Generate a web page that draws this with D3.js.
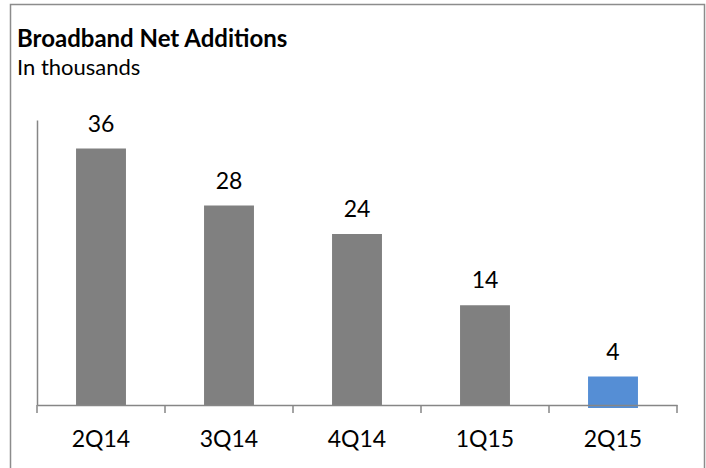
<!DOCTYPE html>
<html>
<head>
<meta charset="utf-8">
<script src="https://cdn.jsdelivr.net/npm/d3@7"></script>
<style>
  body { margin: 0; background: #fff; }
  text { font-family: Lato, "Open Sans", sans-serif; fill: #000; }
</style>
</head>
<body>
<svg id="chart" width="706" height="468"></svg>
<script>
const quarters = ['2Q14', '3Q14', '4Q14', '1Q15', '2Q15'];
const netAdds = [36, 28, 24, 14, 4];
const yTicks = [0, 40];

const svg = d3.select('#chart');
const plotLeft = 37;
const plotRight = 677;
const baseline = 405;
const plotTop = 120;

// outer frame
svg.append('rect')
  .attr('x', 10.5).attr('y', 4.5)
  .attr('width', 694).attr('height', 480)
  .attr('fill', 'none')
  .attr('stroke', '#8c8c8c')
  .attr('stroke-width', 1.5);

svg.append('text')
  .attr('x', 17).attr('y', 47)
  .style('font-weight', 'bold')
  .style('font-size', '24px')
  .text('Broadband Net Additions');

svg.append('text')
  .attr('x', 17).attr('y', 75)
  .style('font-size', '22px')
  .text('In thousands');

const x = d3.scaleBand()
  .domain(quarters)
  .range([plotLeft, plotRight])
  .paddingInner(0.61)
  .paddingOuter(0.305);

const y = d3.scaleLinear()
  .domain(d3.extent(yTicks))
  .range([baseline, plotTop]);

// bars
svg.selectAll('.bar')
  .data(quarters)
  .enter().append('rect')
  .attr('class', 'bar')
  .attr('x', (d) => x(d))
  .attr('width', x.bandwidth())
  .attr('y', (d, i) => y(netAdds[i]))
  .attr('height', (d, i) => y(0) - y(netAdds[i]) + (i === quarters.length - 1 ? 3 : 0))
  .attr('fill', (d, i) => (i === quarters.length - 1 ? '#558ed5' : '#808080'));

// value labels
svg.selectAll('.val')
  .data(quarters)
  .enter().append('text')
  .attr('class', 'val')
  .attr('x', (d) => x(d) + x.bandwidth() / 2)
  .attr('y', (d, i) => y(netAdds[i]) - 17)
  .attr('text-anchor', 'middle')
  .style('font-size', '23px')
  .text((d, i) => netAdds[i]);

// y axis (line only)
const yAxis = d3.axisLeft(y).tickValues([]).tickSize(0);
svg.append('g')
  .attr('class', 'yAxis')
  .attr('transform', `translate(${plotLeft}, 0)`)
  .call(yAxis)
  .select('.domain')
  .attr('stroke', '#868686')
  .attr('stroke-width', 1.5);

// x axis, ticks between categories
const xAxis = d3.axisBottom(x).tickSize(0).tickFormat('');
const gx = svg.append('g')
  .attr('class', 'xAxis')
  .attr('transform', `translate(0, ${baseline})`)
  .call(xAxis);
gx.select('.domain')
  .attr('stroke', '#868686')
  .attr('stroke-width', 1.5);
gx.selectAll('.tick').remove();

const bounds = d3.range(quarters.length + 1).map((i) => plotLeft + i * x.step());
gx.selectAll('.sep')
  .data(bounds)
  .enter().append('line')
  .attr('class', 'sep')
  .attr('x1', (d) => d).attr('x2', (d) => d)
  .attr('y1', 0).attr('y2', 8)
  .attr('stroke', '#868686')
  .attr('stroke-width', 1.5);

svg.selectAll('.cat')
  .data(quarters)
  .enter().append('text')
  .attr('class', 'cat')
  .attr('x', (d) => x(d) + x.bandwidth() / 2)
  .attr('y', 447)
  .attr('text-anchor', 'middle')
  .style('font-size', '23px')
  .text((d) => d);
</script>
</body>
</html>
